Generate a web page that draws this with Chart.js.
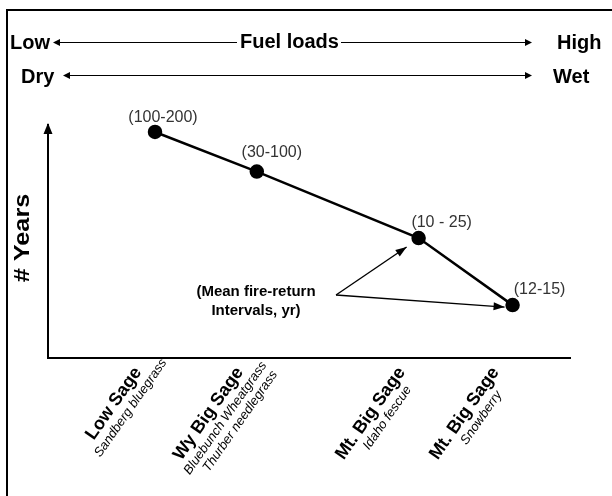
<!DOCTYPE html>
<html>
<head>
<meta charset="utf-8">
<script src="https://cdn.jsdelivr.net/npm/chart.js@4.4.1/dist/chart.umd.min.js"></script>
<style>
  html, body { margin: 0; padding: 0; background: #fff; }
  #wrap { width: 612px; height: 496px; }
</style>
</head>
<body>
<div id="wrap"><canvas id="fireChart" width="612" height="496"></canvas></div>
<script>
// sagebrush communities, left (dry / low fuel) to right (wet / high fuel)
const categories = ['Low Sage', 'Wy Big Sage', 'Mt. Big Sage', 'Mt. Big Sage'];
const understory = [
  ['Sandberg bluegrass'],
  ['Bluebunch Wheatgrass', 'Thurber needlegrass'],
  ['Idaho fescue'],
  ['Snowberry'],
];
// mean fire-return intervals (yr)
const intervals = ['(100-200)', '(30-100)', '(10 - 25)', '(12-15)'];
// position along the moisture gradient and relative height on the "# Years" axis
const gradientPos = [2.05, 4.0, 7.1, 8.9];
const yearsLevel = [97, 80, 51.5, 22.7];

const FONT = '"Liberation Sans", Arial, sans-serif';

function arrowHead(ctx, x, y, dir) {
  // dir: +1 points right, -1 points left
  ctx.beginPath();
  ctx.moveTo(x, y);
  ctx.lineTo(x - dir * 7, y - 3.5);
  ctx.lineTo(x - dir * 7, y + 3.5);
  ctx.closePath();
  ctx.fill();
}

function arrowTo(ctx, x0, y0, x1, y1) {
  const a = Math.atan2(y1 - y0, x1 - x0);
  ctx.beginPath();
  ctx.moveTo(x0, y0);
  ctx.lineTo(x1, y1);
  ctx.stroke();
  ctx.save();
  ctx.translate(x1, y1);
  ctx.rotate(a);
  ctx.beginPath();
  ctx.moveTo(0, 0);
  ctx.lineTo(-11, -4);
  ctx.lineTo(-11, 4);
  ctx.closePath();
  ctx.fill();
  ctx.restore();
}

const decor = {
  id: 'decor',
  afterDraw(chart) {
    const ctx = chart.ctx;
    const xs = chart.scales.x;
    const ys = chart.scales.y;
    const area = chart.chartArea;
    ctx.save();
    ctx.fillStyle = '#000';
    ctx.strokeStyle = '#000';

    // frame (top and left edges)
    ctx.lineWidth = 2;
    ctx.beginPath();
    ctx.moveTo(7, 496);
    ctx.lineTo(7, 10);
    ctx.lineTo(612, 10);
    ctx.stroke();

    // header gradients
    ctx.font = 'bold 20px ' + FONT;
    ctx.textBaseline = 'middle';
    ctx.textAlign = 'left';
    ctx.fillText('Low', 10, 43);
    ctx.fillText('Fuel loads', 240, 42);
    ctx.fillText('High', 557, 43);
    ctx.fillText('Dry', 21, 77);
    ctx.fillText('Wet', 553, 77);
    ctx.lineWidth = 1;
    ctx.beginPath();
    ctx.moveTo(55, 42.5); ctx.lineTo(237, 42.5);
    ctx.moveTo(341, 42.5); ctx.lineTo(527, 42.5);
    ctx.moveTo(66, 75.5); ctx.lineTo(527, 75.5);
    ctx.stroke();
    arrowHead(ctx, 53, 42.5, -1);
    arrowHead(ctx, 532, 42.5, 1);
    arrowHead(ctx, 63, 75.5, -1);
    arrowHead(ctx, 532, 75.5, 1);

    // y axis arrow head
    ctx.beginPath();
    ctx.moveTo(area.left, area.top - 2);
    ctx.lineTo(area.left - 4.5, area.top + 9);
    ctx.lineTo(area.left + 4.5, area.top + 9);
    ctx.closePath();
    ctx.fill();

    // y title
    ctx.save();
    ctx.translate(23, 238);
    ctx.rotate(-Math.PI / 2);
    ctx.scale(1.15, 1);
    ctx.textAlign = 'center';
    ctx.font = 'bold 22px ' + FONT;
    ctx.fillText('# Years', 0, 0);
    ctx.restore();

    // interval labels above the points
    const labelShift = [[8, -14], [15, -19], [23, -15], [27, -16]];
    ctx.font = '16px ' + FONT;
    ctx.fillStyle = '#333';
    ctx.textAlign = 'center';
    intervals.forEach((t, i) => {
      const px = xs.getPixelForValue(gradientPos[i]);
      const py = ys.getPixelForValue(yearsLevel[i]);
      ctx.fillText(t, px + labelShift[i][0], py + labelShift[i][1]);
    });

    // annotation with two arrows
    ctx.fillStyle = '#000';
    ctx.font = 'bold 15px ' + FONT;
    ctx.fillText('(Mean fire-return', 256, 292);
    ctx.fillText('Intervals, yr)', 256, 311);
    ctx.lineWidth = 1.4;
    const p3x = xs.getPixelForValue(gradientPos[2]);
    const p3y = ys.getPixelForValue(yearsLevel[2]);
    const p4x = xs.getPixelForValue(gradientPos[3]);
    const p4y = ys.getPixelForValue(yearsLevel[3]);
    arrowTo(ctx, 336, 295, p3x - 12, p3y + 9);
    arrowTo(ctx, 336, 295, p4x - 8, p4y + 2);

    // rotated category labels, sub lines centred under the main name
    const ang = -55 * Math.PI / 180;
    categories.forEach((name, i) => {
      const px = xs.getPixelForValue(gradientPos[i]) - 13;
      const py = area.bottom + 14;
      ctx.save();
      ctx.translate(px, py);
      ctx.rotate(ang);
      ctx.textBaseline = 'alphabetic';
      ctx.textAlign = 'center';
      ctx.font = 'bold 18px ' + FONT;
      const w = ctx.measureText(name).width;
      ctx.fillText(name, -w / 2, 0);
      ctx.font = 'italic 13px ' + FONT;
      understory[i].forEach((s, j) => {
        ctx.fillText(s, -w / 2 + 6 + j * 6, 15 + j * 14);
      });
      ctx.restore();
    });

    ctx.restore();
  }
};

new Chart(document.getElementById('fireChart'), {
  type: 'line',
  data: {
    datasets: [{
      data: gradientPos.map((x, i) => ({ x: x, y: yearsLevel[i] })),
      borderColor: '#000',
      borderWidth: 2.5,
      pointRadius: 6,
      pointBackgroundColor: '#000',
      pointBorderColor: '#000',
      tension: 0,
      clip: false,
    }],
  },
  options: {
    responsive: false,
    animation: false,
    events: [],
    layout: { padding: { left: 48, right: 42, top: 125, bottom: 138 } },
    plugins: { legend: { display: false }, tooltip: { enabled: false } },
    scales: {
      x: {
        type: 'linear',
        min: 0,
        max: 10,
        grid: { display: false, drawTicks: false },
        ticks: { display: false },
        border: { display: true, color: '#000', width: 2 },
      },
      y: {
        min: 0,
        max: 100,
        grid: { display: false, drawTicks: false },
        ticks: { display: false },
        border: { display: true, color: '#000', width: 2 },
      },
    },
  },
  plugins: [decor],
});
</script>
</body>
</html>
